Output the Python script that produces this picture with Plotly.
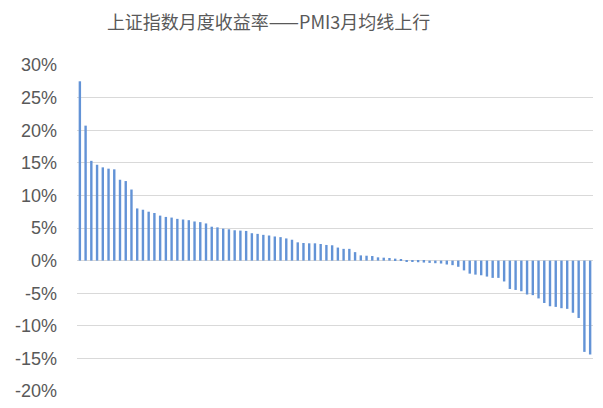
import plotly.graph_objects as go

title_text = "上证指数月度收益率——PMI3月均线上行"

returns_pct = [
    27.5, 20.7, 15.3, 14.7, 14.3, 14.1, 14.0, 12.4, 12.2, 10.9,
    8.0, 7.8, 7.5, 7.3, 6.9, 6.7, 6.6, 6.4, 6.3, 6.2,
    6.0, 5.9, 5.7, 5.2, 5.1, 4.9, 4.8, 4.65, 4.6, 4.55,
    4.2, 4.1, 3.95, 3.85, 3.7, 3.6, 3.4, 3.2, 2.8, 2.7,
    2.65, 2.65, 2.55, 2.4, 2.35, 2.0, 1.8, 1.8, 1.3, 0.8,
    0.75, 0.7, 0.5, 0.45, 0.4, 0.3, 0.2, -0.1, -0.2, -0.25,
    -0.3, -0.35, -0.4, -0.45, -0.6, -0.7, -0.95, -1.5, -2.0, -2.15,
    -2.25, -2.45, -2.65, -2.65, -3.2, -4.35, -4.5, -4.7, -5.2, -5.3,
    -5.8, -6.5, -7.0, -7.1, -7.3, -7.4, -8.0, -8.8, -14.0, -14.4,
]
categories = list(range(1, len(returns_pct) + 1))

y_ticks = [30, 25, 20, 15, 10, 5, 0, -5, -10, -15, -20]
y_tick_labels = [f"{v}%" for v in y_ticks]

fig = go.Figure(
    go.Bar(
        x=categories,
        y=returns_pct,
        marker=dict(color="#6393D6", line=dict(width=0)),
        hovertemplate="%{y}%<extra></extra>",
    )
)

# The page's default body margin offsets the figure by 8px, so the
# figure is sized and margined to land on the reference positions.
fig.update_layout(
    width=595,
    height=400,
    margin=dict(l=69, r=10, t=57, b=17, autoexpand=False),
    paper_bgcolor="white",
    plot_bgcolor="white",
    bargap=0.58,
    showlegend=False,
    title=dict(
        text=title_text,
        x=0.438,
        xanchor="center",
        y=0.964,
        yanchor="middle",
        font=dict(family="Noto Sans CJK SC", size=18, color="#595959"),
    ),
)

fig.update_xaxes(
    range=[0.5, len(categories) + 0.5],
    showticklabels=False,
    showgrid=False,
    zeroline=False,
    showline=False,
    ticks="",
    automargin=False,
)

fig.update_yaxes(
    range=[-20, 30],
    tickvals=y_ticks,
    ticktext=y_tick_labels,
    showgrid=True,
    gridcolor="#D9D9D9",
    gridwidth=1,
    zeroline=True,
    zerolinecolor="#D9D9D9",
    zerolinewidth=1,
    showline=False,
    ticks="",
    ticklabelstandoff=19,
    automargin=False,
    tickfont=dict(family="Liberation Sans", size=18, color="#595959"),
)

fig.write_html("out.html")
